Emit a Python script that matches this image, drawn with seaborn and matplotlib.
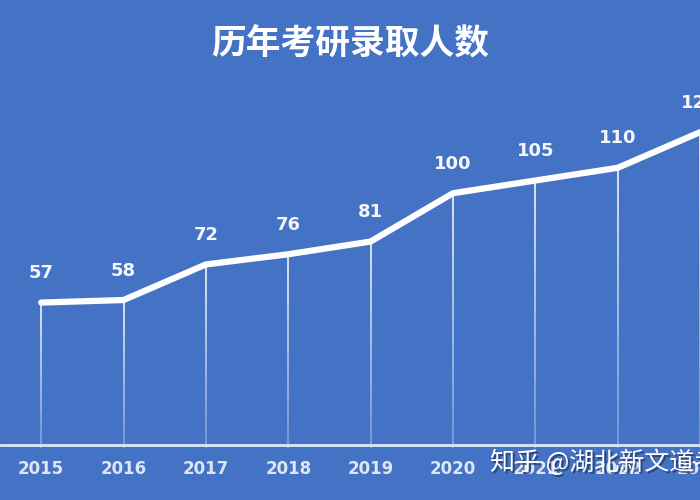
import matplotlib.pyplot as plt
import seaborn as sns
import pandas as pd

years = [2015, 2016, 2017, 2018, 2019, 2020, 2021, 2022, 2023]
admitted = [57, 58, 72, 76, 81, 100, 105, 110, 124]
title = "历年考研录取人数"
watermark = "知乎 @湖北新文道考研"

bg = "#4472C4"

sns.set_theme(style="white")
plt.rcParams["font.family"] = ["Noto Sans CJK SC", "DejaVu Sans"]

df = pd.DataFrame({"year": years, "admitted": admitted})

fig = plt.figure(figsize=(7, 5), dpi=100, facecolor=bg)
ax = fig.add_axes([0, 0.105, 1, 0.895])
ax.set_facecolor(bg)

# drop lines from each point down to the baseline, fading out near the bottom
steps = 12
for x, y in zip(years, admitted):
    for i in range(steps):
        y0 = y * i / steps
        y1 = y * (i + 1) / steps
        ax.plot([x, x], [y0, y1], color="white", lw=1.3,
                alpha=0.25 + 0.6 * (i + 1) / steps, solid_capstyle="butt", zorder=1)

sns.lineplot(data=df, x="year", y="admitted", ax=ax, color="white",
             linewidth=4.5, zorder=3)

for x, y in zip(years, admitted):
    ax.text(x, y + 8, str(y), ha="center", va="bottom", color="#f4f6fb",
            fontsize=13, fontweight="bold", family=["DejaVu Sans"])

ax.axhline(0.8, color="#dfe7f5", lw=2, zorder=2)

ax.set_xlim(2014.5, 2023.0)
ax.set_ylim(0, 176)
ax.set_xticks([])
ax.set_yticks([])
ax.set_xlabel("")
ax.set_ylabel("")
for s in ax.spines.values():
    s.set_visible(False)

for x in years:
    fx = (x - 2014.5) / 8.5
    fig.text(fx, 0.062, str(x), ha="center", va="center", color="#dfe6f3",
             fontsize=12, fontweight="bold", family=["DejaVu Sans"])

fig.text(0.5, 0.912, title, ha="center", va="center", color="white",
         fontsize=25, fontweight="bold")

fig.text(0.703, 0.071, watermark, ha="left", va="center", color="#1e2a44",
         fontsize=18, alpha=0.6)
fig.text(0.700, 0.075, watermark, ha="left", va="center", color="white",
         fontsize=18)

fig.savefig("out.png", dpi=100, facecolor=bg)
